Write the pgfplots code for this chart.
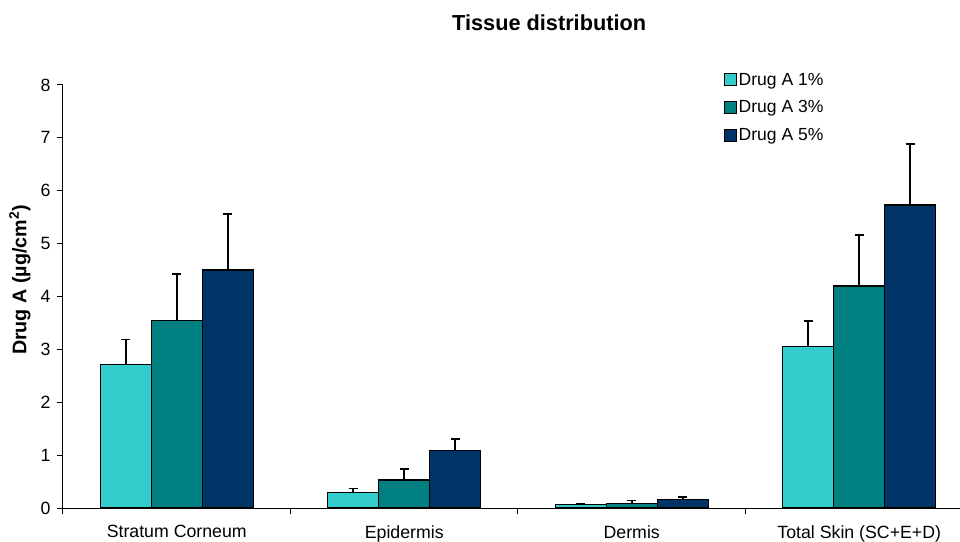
\documentclass[border=0pt]{standalone}
\usepackage{fontspec}
\setmainfont{Liberation Sans}
\usepackage{pgfplots}
\pgfplotsset{compat=1.18}

\definecolor{dlow}{HTML}{33CCCC}
\definecolor{dmid}{HTML}{008080}
\definecolor{dhigh}{HTML}{003366}

\begin{document}
\begin{tikzpicture}
\begin{axis}[
  at={(0,0)}, anchor=south west,
  scale only axis,
  width=897bp, height=423bp,
  xmin=-0.5, xmax=3.443,
  ymin=0, ymax=8,
  axis x line*=bottom, axis y line*=left,
  axis line style={-, line width=1bp},
  ybar=0pt, bar width=51bp,
  xtick={-0.5,0.5,1.5,2.5},
  xticklabels={Stratum Corneum, Epidermis, Dermis, Total Skin (SC+E+D)},
  x tick label style={xshift=113.75bp, yshift=-8bp},
  ytick={0,1,...,8},
  y tick label style={xshift=-3bp},
  tick align=outside, major tick length=6bp,
  tick style={black, line width=1bp},
  /pgf/number format/assume math mode=true,
  tick label style={font=\fontsize{17.8}{20}\selectfont},
  ylabel={\bfseries Drug A (µg/cm\textsuperscript{2})},
  ylabel style={at={(axis description cs:-0.048,0.539)}, anchor=center,
    font=\fontsize{19.8}{22}\selectfont},
  title={\bfseries Tissue distribution},
  title style={at={(axis description cs:0.542,1)}, anchor=base, yshift=49bp,
    font=\fontsize{21.8}{24}\selectfont},
  legend style={at={(rel axis cs:0.733,1.038)}, anchor=north west, draw=none, fill=none,
    font=\fontsize{17.6}{20}\selectfont, row sep=10bp,
    legend cell align=left},
  legend image code/.code={\draw[#1, line width=1bp] (0bp,-6bp) rectangle (12bp,6bp);},
  every axis plot/.append style={draw=black, line width=1.2bp},
]
\addplot[fill=dlow, error bars/.cd, y dir=plus, y explicit,
  error bar style={line width=1.6bp, black},
  error mark options={rotate=90, black, mark size=4.5bp, line width=1.6bp}] coordinates {
  (0,2.72) +- (0,0.47)
  (1,0.30) +- (0,0.07)
  (2,0.06) +- (0,0.01)
  (3,3.06) +- (0,0.48)
};
\addplot[fill=dmid, error bars/.cd, y dir=plus, y explicit,
  error bar style={line width=1.6bp, black},
  error mark options={rotate=90, black, mark size=4.5bp, line width=1.6bp}] coordinates {
  (0,3.55) +- (0,0.88)
  (1,0.53) +- (0,0.21)
  (2,0.09) +- (0,0.05)
  (3,4.20) +- (0,0.96)
};
\addplot[fill=dhigh, error bars/.cd, y dir=plus, y explicit,
  error bar style={line width=1.6bp, black},
  error mark options={rotate=90, black, mark size=4.5bp, line width=1.6bp}] coordinates {
  (0,4.50) +- (0,1.06)
  (1,1.08) +- (0,0.23)
  (2,0.16) +- (0,0.05)
  (3,5.73) +- (0,1.15)
};
\legend{Drug A 1\%, Drug A 3\%, Drug A 5\%}
\end{axis}
\pgfresetboundingbox
\useasboundingbox (-63bp,-34bp) rectangle (897bp,508bp);
\end{tikzpicture}
\end{document}
